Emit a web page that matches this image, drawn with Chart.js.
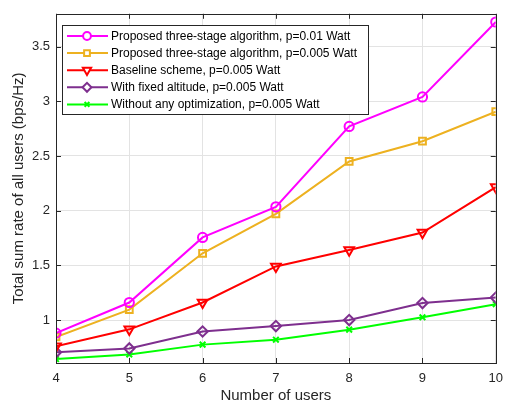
<!DOCTYPE html>
<html>
<head>
<meta charset="utf-8">
<script src="https://cdn.jsdelivr.net/npm/chart.js@4/dist/chart.umd.min.js"></script>
<style>
  html, body { margin: 0; padding: 0; background: #ffffff; }
  #wrap { width: 511px; height: 408px; }
</style>
</head>
<body>
<div id="wrap"><canvas id="c" width="511" height="408"></canvas></div>
<script>
// Number of users on the x axis
const users = [4, 5, 6, 7, 8, 9, 10];

// Total sum rate (bps/Hz) for each scheme
const proposedP01 = [0.88, 1.16, 1.755, 2.035, 2.77, 3.04, 3.725];
const proposedP005 = [0.845, 1.095, 1.61, 1.97, 2.45, 2.635, 2.905];
const baseline = [0.76, 0.915, 1.16, 1.49, 1.64, 1.80, 2.215];
const fixedAltitude = [0.705, 0.74, 0.895, 0.945, 1.0, 1.155, 1.205];
const noOptimization = [0.643, 0.685, 0.775, 0.82, 0.912, 1.025, 1.145];

const seriesNames = [
  'Proposed three-stage algorithm, p=0.01 Watt',
  'Proposed three-stage algorithm, p=0.005 Watt',
  'Baseline scheme, p=0.005 Watt',
  'With fixed altitude, p=0.005 Watt',
  'Without any optimization, p=0.005 Watt'
];

const yTickValues = [1, 1.5, 2, 2.5, 3, 3.5];

const FONT = '"Liberation Sans", Arial, Helvetica, sans-serif';
const AXIS_COLOR = '#262626';

function pts(values) {
  return users.map((u, i) => ({ x: u, y: values[i] }));
}

function makeSet(label, values, color, style, radius, rotation) {
  return {
    label: label,
    data: pts(values),
    borderColor: color,
    backgroundColor: color,
    borderWidth: 2,
    pointStyle: style,
    pointRadius: radius,
    pointHoverRadius: radius,
    pointRotation: rotation || 0,
    pointBorderColor: color,
    pointBackgroundColor: 'rgba(0,0,0,0)',
    pointBorderWidth: 2,
    tension: 0,
    fill: false
  };
}

// Box around the plot area with inward tick marks on all four sides
const axesBox = {
  id: 'axesBox',
  afterDatasetsDraw(chart) {
    const { ctx, chartArea: a, scales } = chart;
    const len = 5;
    ctx.save();
    ctx.strokeStyle = AXIS_COLOR;
    ctx.lineWidth = 1;
    ctx.beginPath();
    scales.x.ticks.forEach(t => {
      const px = Math.round(scales.x.getPixelForValue(t.value)) + 0.5;
      ctx.moveTo(px, a.bottom); ctx.lineTo(px, a.bottom - len);
      ctx.moveTo(px, a.top); ctx.lineTo(px, a.top + len);
    });
    scales.y.ticks.forEach(t => {
      const py = Math.round(scales.y.getPixelForValue(t.value)) + 0.5;
      ctx.moveTo(a.left, py); ctx.lineTo(a.left + len, py);
      ctx.moveTo(a.right, py); ctx.lineTo(a.right - len, py);
    });
    ctx.stroke();
    ctx.strokeRect(Math.round(a.left) + 0.5, Math.round(a.top) + 0.5,
                   Math.round(a.right - a.left), Math.round(a.bottom - a.top));
    ctx.restore();
  }
};

// Boxed legend placed inside the upper-left of the plot area
const insideLegend = {
  id: 'insideLegend',
  afterDraw(chart) {
    const { ctx } = chart;
    const bx = 62.5, by = 25.5, bw = 306, bh = 89;
    ctx.save();
    ctx.fillStyle = '#ffffff';
    ctx.fillRect(bx, by, bw, bh);
    ctx.strokeStyle = AXIS_COLOR;
    ctx.lineWidth = 1;
    ctx.strokeRect(bx, by, bw, bh);
    ctx.font = '12px ' + FONT;
    ctx.textBaseline = 'middle';
    ctx.textAlign = 'left';
    chart.data.datasets.forEach((ds, i) => {
      const y = 36 + i * 17.1;
      ctx.strokeStyle = ds.borderColor;
      ctx.lineWidth = ds.borderWidth;
      ctx.beginPath();
      ctx.moveTo(67, y); ctx.lineTo(108, y);
      ctx.stroke();
      ctx.fillStyle = '#ffffff';
      Chart.helpers.drawPoint(ctx, {
        pointStyle: ds.pointStyle,
        rotation: ds.pointRotation,
        radius: ds.pointRadius * 0.85,
        borderWidth: ds.pointBorderWidth
      }, 87, y);
      ctx.fillStyle = '#000000';
      ctx.fillText(ds.label, 111, y + 0.5);
    });
    ctx.restore();
  }
};

const tickFont = { family: FONT, size: 13 };
const titleFont = { family: FONT, size: 15 };

new Chart(document.getElementById('c'), {
  type: 'line',
  data: {
    datasets: [
      makeSet(seriesNames[0], proposedP01, '#ff00ff', 'circle', 4.6),
      makeSet(seriesNames[1], proposedP005, '#edb120', 'rect', 4.8),
      makeSet(seriesNames[2], baseline, '#ff0000', 'triangle', 5.6, 180),
      makeSet(seriesNames[3], fixedAltitude, '#7e2f8e', 'rectRot', 5.2),
      makeSet(seriesNames[4], noOptimization, '#00ff00', 'crossRot', 4)
    ]
  },
  options: {
    responsive: false,
    animation: false,
    events: [],
    layout: { padding: { top: 10, right: 9, left: 0, bottom: 0 } },
    plugins: {
      legend: { display: false },
      tooltip: { enabled: false }
    },
    scales: {
      x: {
        type: 'linear',
        min: 4,
        max: 10,
        afterFit(scale) { scale.height = 45; },
        grid: { color: '#e3e3e3', drawTicks: false, lineWidth: 1 },
        border: { display: false },
        ticks: {
          stepSize: 1,
          padding: 8,
          color: AXIS_COLOR,
          font: tickFont,
          maxRotation: 0
        },
        title: {
          display: true,
          text: 'Number of users',
          color: AXIS_COLOR,
          font: titleFont,
          padding: { top: 0, bottom: 3 }
        }
      },
      y: {
        type: 'linear',
        min: 0.607,
        max: 3.8,
        afterFit(scale) { scale.width = 56; },
        afterBuildTicks(scale) {
          scale.ticks = yTickValues.map(v => ({ value: v }));
        },
        grid: { color: '#e3e3e3', drawTicks: false, lineWidth: 1 },
        border: { display: false },
        ticks: {
          padding: 6,
          color: AXIS_COLOR,
          font: tickFont,
          callback: v => String(v)
        },
        title: {
          display: true,
          text: 'Total sum rate of all users (bps/Hz)',
          color: AXIS_COLOR,
          font: titleFont,
          padding: { top: 10, bottom: 0 }
        }
      }
    }
  },
  plugins: [axesBox, insideLegend]
});
</script>
</body>
</html>
